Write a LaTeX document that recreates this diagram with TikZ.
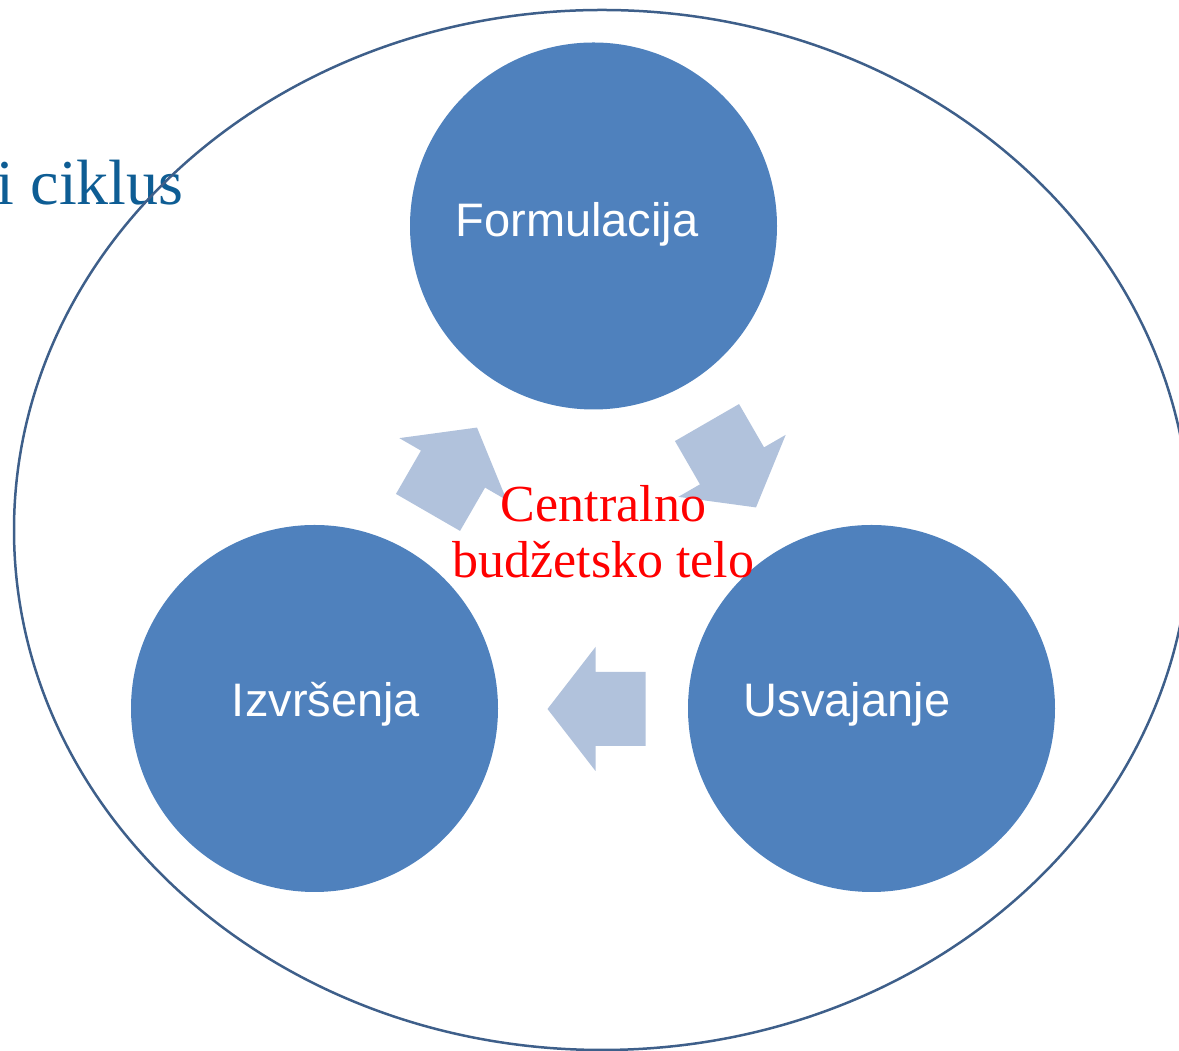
\documentclass[tikz,border=0pt]{standalone}
\usepackage{fontspec}
\setmainfont{Liberation Serif}
\setsansfont{Liberation Sans}
\usetikzlibrary{positioning}
\definecolor{phaseblue}{HTML}{4F81BD}
\definecolor{flowblue}{HTML}{B1C2DC}
\definecolor{rimblue}{HTML}{3E5F8A}
\definecolor{titleblue}{HTML}{0E5D94}

\begin{document}
\begin{tikzpicture}[x=1pt,y=1pt,
    phase/.style={circle, fill=phaseblue, minimum size=367pt, inner sep=0pt},
    phaselabel/.style={text=white, font=\sffamily\fontsize{47}{56}\selectfont, anchor=base},
    cyclearrow/.pic={%
      \fill[flowblue] (-49,-37) -- (1,-37) -- (1,-62) -- (49,0)
        -- (1,62) -- (1,37) -- (-49,37) -- cycle;
    }
  ]
  \useasboundingbox (0,0) rectangle (1179,1051);
  \clip (0,0) rectangle (1179,1051);

  \node[anchor=base east, text=titleblue, font=\fontsize{64}{72}\selectfont]
    (title) at (187,846) {i ciklus};
  \draw[rimblue, line width=2.5pt] (602,521) ellipse [x radius=588, y radius=520];

  \node[phase] (formulacija) at (593.5,825) {};
  \node[phase] (izvrsenja) at (314.5,342.5) {};
  \node[phase] (usvajanje) at (871.5,342.5) {};

  \node[phaselabel] (formulacijaText) at ([xshift=-16.5pt,yshift=-11pt]formulacija.center) {Formulacija};
  \node[phaselabel] (izvrsenjaText) at ([xshift=11.5pt,yshift=-8.5pt]izvrsenja.center) {Izvršenja};
  \node[phaselabel] (usvajanjeText) at ([xshift=-24.5pt,yshift=-8.5pt]usvajanje.center) {Usvajanje};

  \pic[rotate=-60] (toUsvajanje) at (731.5,586) {cyclearrow};
  \pic[rotate=180] (toIzvrsenja) at (596.5,342) {cyclearrow};
  \pic[rotate=60] (toFormulacija) at (452.5,581) {cyclearrow};

  \node[text=red, align=center, font=\fontsize{52}{56}\selectfont]
    (centar) at (603.5,519) {Centralno\\budžetsko telo};
\end{tikzpicture}
\end{document}
